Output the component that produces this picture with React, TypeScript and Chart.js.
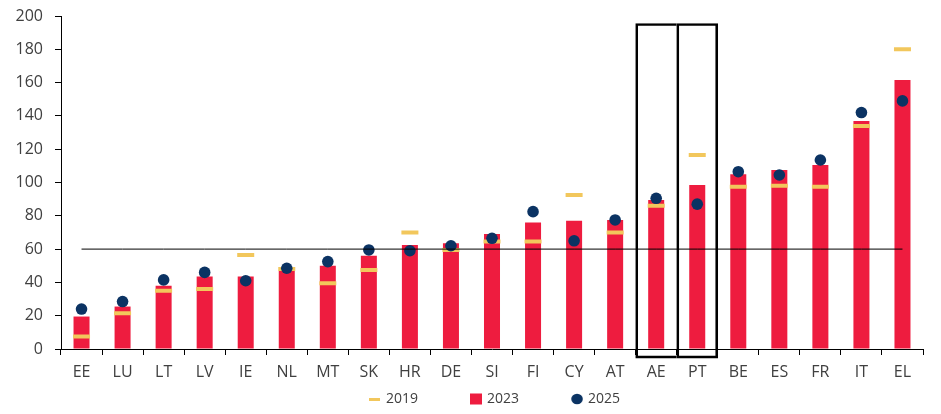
import React, { useEffect, useRef } from 'react';
import { Chart, registerables } from 'chart.js';

Chart.register(...registerables);

const categories = ['EE', 'LU', 'LT', 'LV', 'IE', 'NL', 'MT', 'SK', 'HR', 'DE', 'SI', 'FI', 'CY', 'AT', 'AE', 'PT', 'BE', 'ES', 'FR', 'IT', 'EL'];
const values2019 = [7.5, 21.5, 35, 36, 56.5, 48, 39.5, 47.5, 70, 59.5, 64.5, 64.5, 92.5, 70, 86, 116.5, 97.5, 98, 97.5, 134, 180];
const values2023 = [19.5, 25.5, 38, 43.5, 43.5, 47, 50, 56, 62.5, 63.5, 69, 76, 77, 77.5, 89.5, 98.5, 105, 107.5, 110.5, 137, 161.5];
const values2025 = [24, 28.5, 41.5, 46, 41, 48.5, 52.5, 59.5, 59, 62, 66.5, 82.5, 65, 77.5, 90.5, 87, 106.5, 104.5, 113.5, 142, 149];
const thresholdValue = 60;
const highlighted = ['AE', 'PT'];
const highlightRange = [-5.5, 195.5];
const legendOrder = ['2019', '2023', '2025'];

const RED = '#EE1C3F';
const YELLOW = '#F2C75C';
const NAVY = '#0B3363';
const TEXT = '#404040';
const FONT = "'Open Sans', sans-serif";

const BOXW = 62;

function makeIcon(kind: string): HTMLCanvasElement {
  const w = BOXW + 4;
  const h = 14;
  const c = document.createElement('canvas');
  c.width = w;
  c.height = h;
  const ctx = c.getContext('2d')!;
  if (kind === '2019') {
    ctx.fillStyle = YELLOW;
    ctx.fillRect(w - 12, 6, 11, 3);
  } else if (kind === '2023') {
    ctx.fillStyle = RED;
    ctx.fillRect(w - 12, 1.5, 12, 11);
  } else {
    ctx.fillStyle = NAVY;
    ctx.beginPath();
    ctx.ellipse(w - 6, 7, 5.8, 5.2, 0, 0, Math.PI * 2);
    ctx.fill();
  }
  return c;
}

export default function App() {
  const ref = useRef<HTMLCanvasElement | null>(null);

  useEffect(() => {
    if (!ref.current) return;
    const icons: Record<string, HTMLCanvasElement> = {
      '2019': makeIcon('2019'),
      '2023': makeIcon('2023'),
      '2025': makeIcon('2025'),
    };
    const lastHighlighted = categories.indexOf(highlighted[highlighted.length - 1]);
    const chart = new Chart(ref.current, {
      type: 'bar',
      data: {
        labels: categories,
        datasets: [
          {
            type: 'bar',
            label: 'highlight',
            data: categories.map((c) => (highlighted.includes(c) ? highlightRange : null)) as any,
            backgroundColor: 'rgba(0,0,0,0)',
            borderColor: '#000',
            borderWidth: (ctx: any) => ({
              top: 2,
              bottom: 2,
              left: 2,
              right: ctx.dataIndex === lastHighlighted ? 2 : 0,
            }),
            borderSkipped: false,
            barPercentage: 1,
            categoryPercentage: 1,
            grouped: false,
            clip: false as any,
            order: 0,
          } as any,
          {
            type: 'line',
            label: 'threshold',
            data: categories.map(() => thresholdValue),
            borderColor: '#000',
            borderWidth: 1,
            pointRadius: 0,
            fill: false,
            order: 1,
          },
          {
            type: 'line',
            label: '2025',
            data: values2025,
            showLine: false,
            pointStyle: 'circle',
            pointRadius: 5.8,
            pointBackgroundColor: NAVY,
            pointBorderWidth: 0,
            backgroundColor: NAVY,
            borderColor: NAVY,
            order: 2,
          },
          {
            type: 'line',
            label: '2019',
            data: values2019,
            showLine: false,
            pointStyle: 'line',
            pointRadius: 8.5,
            pointBorderWidth: 4,
            pointBorderColor: YELLOW,
            borderColor: YELLOW,
            backgroundColor: YELLOW,
            order: 3,
          },
          {
            type: 'bar',
            label: '2023',
            data: values2023,
            backgroundColor: RED,
            borderWidth: 0,
            barPercentage: 0.39,
            categoryPercentage: 1,
            grouped: false,
            order: 4,
          } as any,
        ],
      },
      options: {
        responsive: false,
        animation: false,
        layout: { autoPadding: false, padding: { left: 6, right: 10, top: 0, bottom: -10 } },
        plugins: {
          tooltip: { enabled: false },
          legend: {
            position: 'bottom',
            labels: {
              usePointStyle: true,
              pointStyleWidth: BOXW,
              boxHeight: 14,
              padding: 0,
              color: TEXT,
              font: { family: FONT, size: 14 },
              filter: (item: any) => legendOrder.includes(item.text),
              sort: (a: any, b: any) => legendOrder.indexOf(a.text) - legendOrder.indexOf(b.text),
              generateLabels: (c: any) => {
                const items = Chart.defaults.plugins.legend.labels.generateLabels(c);
                return items.map((it: any) => ({
                  ...it,
                  pointStyle: icons[it.text] || it.pointStyle,
                  rotation: 0,
                }));
              },
            },
          },
        },
        scales: {
          x: {
            offset: true,
            afterFit: (scale: any) => {
              scale.height = 43;
            },
            grid: {
              offset: true,
              drawOnChartArea: false,
              drawTicks: true,
              tickLength: 6,
              tickColor: '#000',
              color: '#000',
            },
            border: { color: '#000', width: 1 },
            ticks: {
              color: TEXT,
              font: { family: FONT, size: 16 },
              padding: 8,
              maxRotation: 0,
              autoSkip: false,
            },
          },
          y: {
            min: 0,
            max: 200,
            afterFit: (scale: any) => {
              scale.width = 47;
              scale.paddingTop = 8;
              scale.paddingBottom = 8;
            },
            grid: {
              drawOnChartArea: false,
              drawTicks: true,
              tickLength: 6,
              tickColor: '#000',
              color: '#000',
            },
            border: { color: '#000', width: 1 },
            ticks: {
              stepSize: 20,
              color: TEXT,
              font: { family: FONT, size: 16, lineHeight: 1 },
              padding: 12,
            },
          },
        },
      },
    });
    return () => chart.destroy();
  }, []);

  return (
    <div style={{ width: 925, height: 398 }}>
      <canvas ref={ref} width={925} height={398} style={{ display: 'block' }} />
    </div>
  );
}
